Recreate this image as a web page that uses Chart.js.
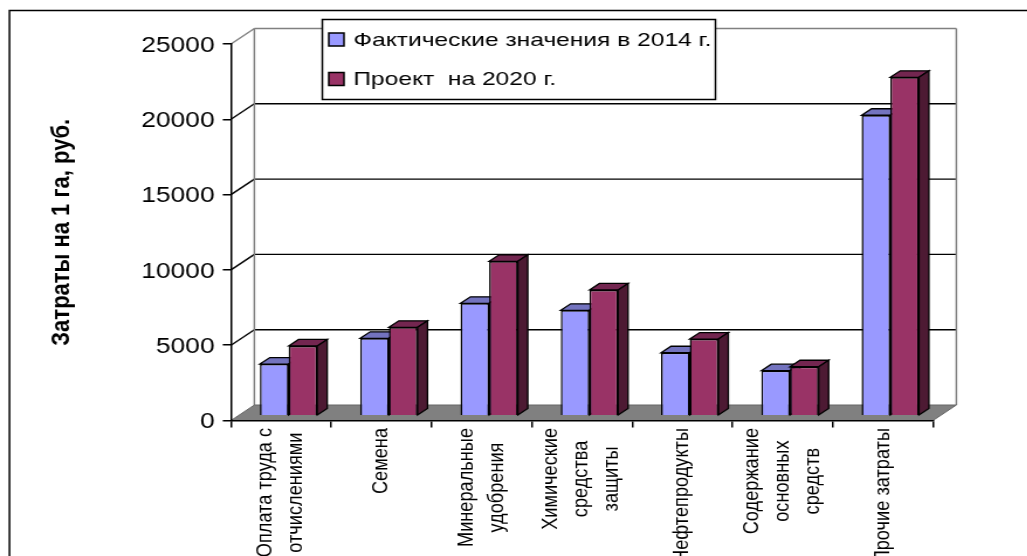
<!DOCTYPE html>
<html>
<head>
<meta charset="utf-8">
<script src="https://cdn.jsdelivr.net/npm/chart.js@4"></script>
<style>
  html, body { margin: 0; background: #fff; overflow: hidden; width: 1027px; height: 556px; }
  /* the reference was stretched sideways, so the whole chart is too */
  #chart { display: block; transform: scaleX(1.17); transform-origin: 0 0; }
</style>
</head>
<body>
<canvas id="chart" width="878" height="556"></canvas>
<script>
const categories = [
  ["Оплата труда с", "отчислениями"],
  ["Семена"],
  ["Минеральные", "удобрения"],
  ["Химические", "средства", "защиты"],
  ["Нефтепродукты"],
  ["Содержание", "основных", "средств"],
  ["Прочие затраты"],
];
const actual2014 = [3430, 5140, 7460, 7000, 4180, 2990, 19950];
const project2020 = [4630, 5870, 10250, 8350, 5090, 3250, 22470];
const yTicks = [0, 5000, 10000, 15000, 20000, 25000];
const seriesNames = ["Фактические значения в 2014 г.", "Проект  на 2020 г."];
const axisTitle = "Затраты на 1 га, руб.";

const FONT = "'Liberation Sans', Arial, sans-serif";
const WALL_DX = 20, WALL_DY = 15.5; // depth of the floor
const BAR_DX = 8.5, BAR_DY = 6.5;   // depth of one bar
const BAR_SHIFT_X = 6.4, BAR_SHIFT_Y = 4.8; // bars stand a bit behind the axis
const faces = [
  { front: "#9999ff", top: "#7373bf", side: "#4d4d80" },
  { front: "#993366", top: "#732650", side: "#4d1a33" },
];

function poly(ctx, pts, fill, stroke, width) {
  ctx.beginPath();
  pts.forEach((p, i) => (i ? ctx.lineTo(p[0], p[1]) : ctx.moveTo(p[0], p[1])));
  ctx.closePath();
  if (fill) { ctx.fillStyle = fill; ctx.fill(); }
  if (stroke) { ctx.strokeStyle = stroke; ctx.lineWidth = width; ctx.stroke(); }
}

function line(ctx, x1, y1, x2, y2, color, width) {
  ctx.beginPath();
  ctx.moveTo(x1, y1);
  ctx.lineTo(x2, y2);
  ctx.strokeStyle = color;
  ctx.lineWidth = width;
  ctx.stroke();
}

const box3d = {
  id: "box3d",
  beforeDraw(chart) {
    const { ctx, chartArea: a, scales: { y } } = chart;
    ctx.save();
    // outer frame, open at the right and at the bottom
    ctx.beginPath();
    ctx.moveTo(8.1, chart.height);
    ctx.lineTo(8.1, 10.5);
    ctx.lineTo(chart.width, 10.5);
    ctx.strokeStyle = "#000";
    ctx.lineWidth = 1.5;
    ctx.stroke();

    const bl = a.left + WALL_DX, br = a.right + WALL_DX;
    const floorY = a.bottom - WALL_DY;
    yTicks.forEach((v) => {
      if (v === 0) return;
      const py = y.getPixelForValue(v);
      const c = v === 25000 ? "#808080" : "#000";
      line(ctx, a.left, py, bl, py - WALL_DY, c, 1.4);
      line(ctx, bl, py - WALL_DY, br, py - WALL_DY, c, 1.4);
    });
    line(ctx, bl, y.getPixelForValue(25000) - WALL_DY, bl, floorY, "#808080", 1.5);
    line(ctx, br, y.getPixelForValue(25000) - WALL_DY, br, floorY, "#808080", 1.5);
    poly(ctx, [[a.left, a.bottom], [bl, floorY], [br, floorY], [a.right, a.bottom]], "#808080", "#666", 1);
    ctx.restore();
  },
  // blue has to go down first so the red front covers its side
  beforeDatasetsDraw(chart) {
    const ctx = chart.ctx;
    faces.forEach((f, i) => {
      const meta = chart.getDatasetMeta(i);
      ctx.save();
      ctx.translate(BAR_SHIFT_X, -BAR_SHIFT_Y);
      meta.data.forEach((bar) => {
        const l = bar.x - bar.width / 2, r = bar.x + bar.width / 2;
        const t = bar.y, b = bar.base;
        poly(ctx, [[l, t], [l + BAR_DX, t - BAR_DY], [r + BAR_DX, t - BAR_DY], [r, t]], f.top, "#000", 1.3);
        poly(ctx, [[r, t], [r + BAR_DX, t - BAR_DY], [r + BAR_DX, b - BAR_DY], [r, b]], f.side, "#000", 1.3);
      });
      meta.controller.draw();
      ctx.restore();
    });
    return false;
  },
  afterDraw(chart) {
    const { ctx, scales: { x } } = chart;
    ctx.save();
    // category labels: block hangs from the axis, lines centred inside it
    ctx.font = "18.2px " + FONT;
    ctx.fillStyle = "#000";
    ctx.textBaseline = "middle";
    categories.forEach((lines, i) => {
      const cx = x.getPixelForTick(i);
      const longest = Math.max(...lines.map((s) => ctx.measureText(s).width));
      lines.forEach((s, j) => {
        ctx.save();
        ctx.translate(cx + (j - (lines.length - 1) / 2) * 26, 428 + longest / 2);
        ctx.rotate(-Math.PI / 2);
        ctx.textAlign = "center";
        ctx.fillText(s, 0, 0);
        ctx.restore();
      });
    });
    // legend box over the wall
    ctx.fillStyle = "#fff";
    ctx.fillRect(275.5, 19.5, 336, 80);
    ctx.strokeStyle = "#000";
    ctx.lineWidth = 1.5;
    ctx.strokeRect(275.5, 19.5, 336, 80);
    ctx.font = "18.5px " + FONT;
    ctx.textAlign = "left";
    seriesNames.forEach((name, i) => {
      const my = i === 0 ? 39.5 : 79;
      ctx.fillStyle = faces[i].front;
      ctx.fillRect(281, my - 6.5, 13, 13);
      ctx.strokeRect(281, my - 6.5, 13, 13);
      ctx.fillStyle = "#000";
      // legend text is a little wider than the rest of the picture
      ctx.save();
      ctx.translate(302, my + 1);
      ctx.scale(1.135, 1);
      ctx.fillText(name, 0, 0);
      ctx.restore();
    });
    ctx.restore();
  },
};

new Chart(document.getElementById("chart"), {
  type: "bar",
  data: {
    labels: categories,
    datasets: [
      { label: seriesNames[0], data: actual2014, backgroundColor: faces[0].front, borderColor: "#000", borderWidth: 1.5 },
      { label: seriesNames[1], data: project2020, backgroundColor: faces[1].front, borderColor: "#000", borderWidth: 1.5 },
    ],
  },
  options: {
    responsive: false,
    animation: false,
    layout: { padding: { top: 44, right: 80.6, left: 0, bottom: 0 } },
    datasets: { bar: { barPercentage: 1, categoryPercentage: 0.572 } },
    plugins: { legend: { display: false }, tooltip: { enabled: false } },
    scales: {
      x: {
        grid: { drawOnChartArea: false, color: "#000", lineWidth: 1.5, tickLength: 7 },
        border: { color: "#000", width: 1.5 },
        ticks: { display: false },
        afterFit: (s) => { s.height = 135.5; },
      },
      y: {
        min: 0,
        max: 25000,
        afterBuildTicks: (s) => { s.ticks = yTicks.map((v) => ({ value: v })); },
        grid: { drawOnChartArea: false, color: "#000", lineWidth: 1.5, tickLength: 7 },
        border: { color: "#000", width: 1.5 },
        ticks: { color: "#000", padding: 7, labelOffset: 1.5, font: { family: FONT, size: 22.5 }, callback: (v) => String(v) },
        title: {
          display: true,
          text: axisTitle,
          color: "#000",
          font: { family: FONT, size: 22, weight: "bold" },
          padding: { top: 40, bottom: 0 },
        },
        afterFit: (s) => { s.width = 197.4; },
      },
    },
  },
  plugins: [box3d],
});
</script>
</body>
</html>
